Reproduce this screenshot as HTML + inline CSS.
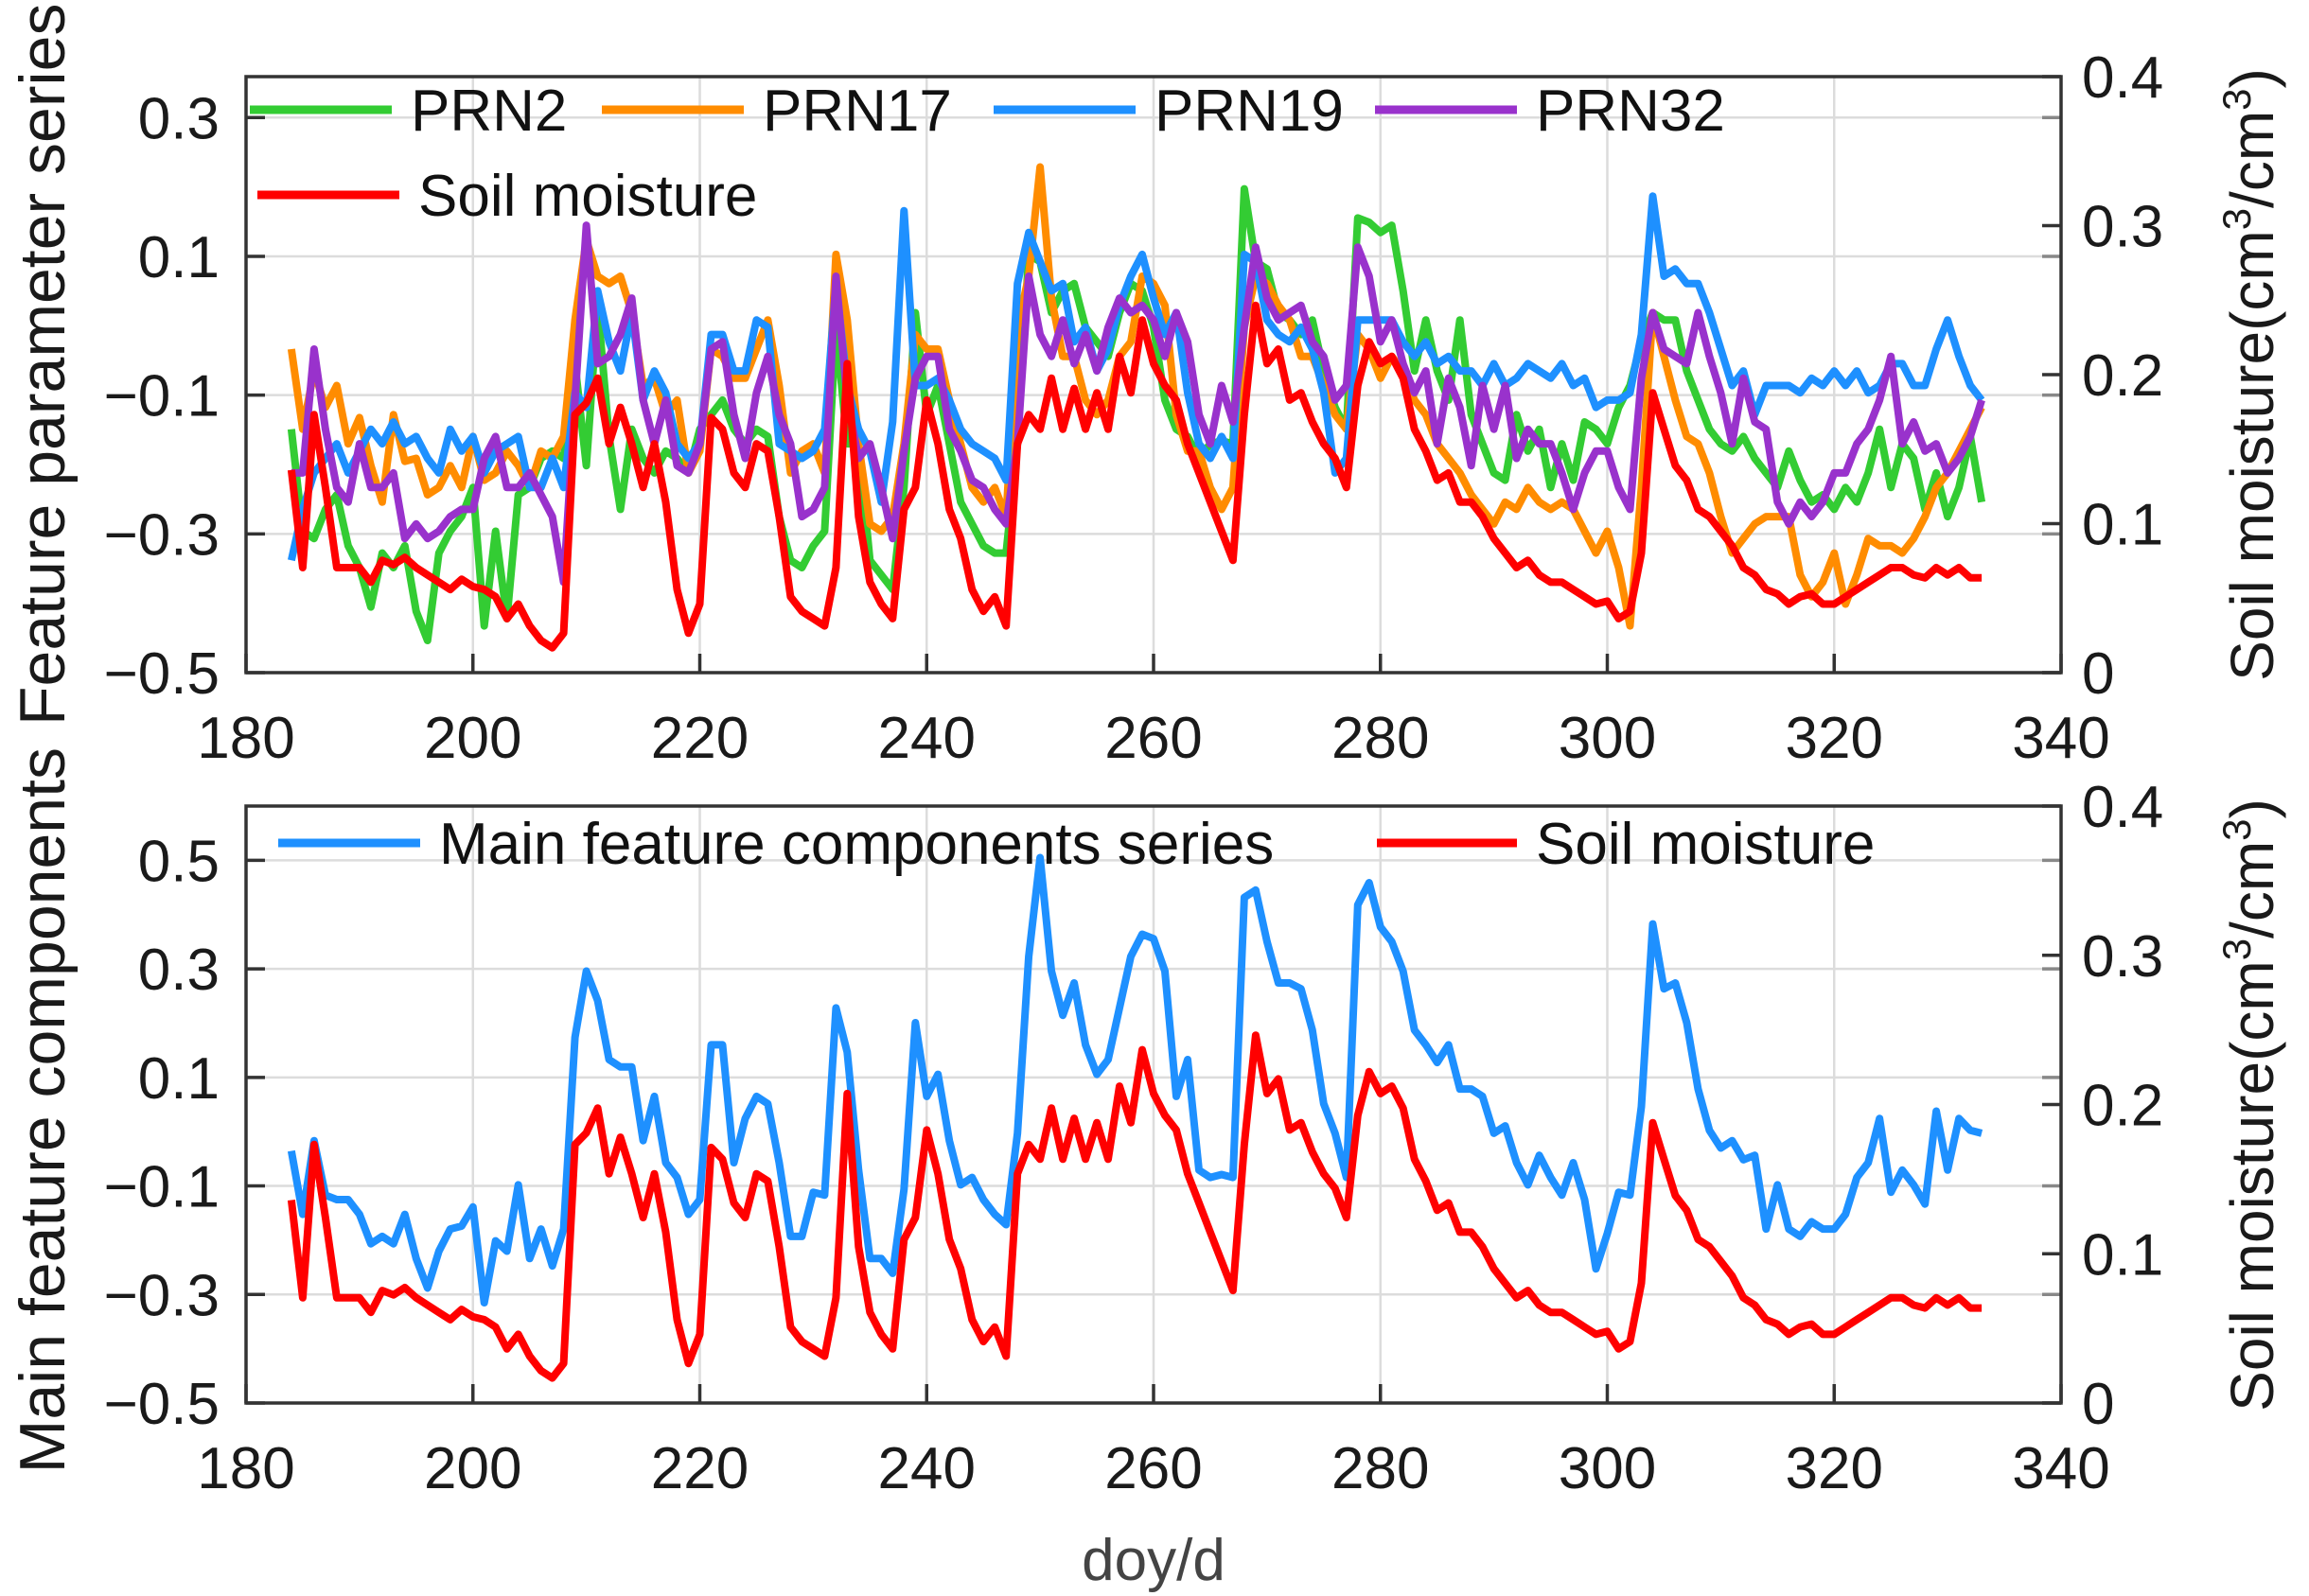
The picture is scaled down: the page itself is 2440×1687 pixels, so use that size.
<!DOCTYPE html>
<html><head><meta charset="utf-8"><style>
html,body{margin:0;padding:0;background:#fff;}
svg{display:block;font-family:"Liberation Sans",Arial,sans-serif;}
</style></head><body>
<svg id="s" width="2440" height="1687" viewBox="0 0 2440 1687" xmlns="http://www.w3.org/2000/svg">
<rect width="2440" height="1687" fill="#fff"/>
<g id="grid" stroke="#dcdcdc" stroke-width="2.5"></g>
<g id="series" fill="none" stroke-width="8" stroke-linejoin="round"></g>
<g id="axes" stroke="#333" stroke-width="3.5" fill="none"></g>
<g id="labels" fill="#1a1a1a" font-size="62"></g>
<g id="legend"></g>
</svg>
<script>
var NS="http://www.w3.org/2000/svg";
function el(p,t,a,txt){var e=document.createElementNS(NS,t);for(var k in a)e.setAttribute(k,a[k]);if(txt!==undefined)e.textContent=txt;document.getElementById(p).appendChild(e);return e;}
var L=260,R=2178;
function X(d){return L+(d-180)*(R-L)/160;}
var P=[{t:81,b:711,ymin:-0.5,ymax:0.359,ticks:[-0.5,-0.3,-0.1,0.1,0.3]},{t:852,b:1483,ymin:-0.5,ymax:0.6,ticks:[-0.5,-0.3,-0.1,0.1,0.3,0.5]}];
P.forEach(function(p,i){
 function Y(v){return p.b-(v-p.ymin)/(p.ymax-p.ymin)*(p.b-p.t);}
 for(var d=200;d<=320;d+=20)el('grid','line',{x1:X(d),x2:X(d),y1:p.t,y2:p.b});
 p.ticks.forEach(function(v){var y=Y(v);if(v>p.ymin)el('grid','line',{x1:L,x2:R,y1:y,y2:y});
  el('axes','line',{x1:L,x2:L+20,y1:y,y2:y});el('axes','line',{x1:R,x2:R-20,y1:y,y2:y,stroke:'#888'});
  el('labels','text',{x:232,y:y+22,'text-anchor':'end'},(v<0?'\u2212':'')+Math.abs(v).toFixed(1));});
 for(var d=180;d<=340;d+=20){el('axes','line',{x1:X(d),x2:X(d),y1:p.b,y2:p.b-20});
  el('labels','text',{x:X(d),y:p.b+90,'text-anchor':'middle'},d);}
 for(var k=0;k<=4;k++){var y=p.b-k/4*(p.b-p.t);el('axes','line',{x1:R,x2:R-20,y1:y,y2:y});
  el('labels','text',{x:2200,y:y+22},k==0?'0':'0.'+k);}
 el('axes','rect',{x:L,y:p.t,width:R-L,height:p.b-p.t});
});
el('labels','text',{x:0,y:0,transform:'translate(68,767) rotate(-90)','text-anchor':'start','font-size':68},'Feature parameter series');
el('labels','text',{x:0,y:0,transform:'translate(68,790) rotate(-90)','text-anchor':'end','font-size':68},'Main feature components');
[[396],[1168]].forEach(function(c){var t=el('labels','text',{x:0,y:0,transform:'translate(2402,'+c[0]+') rotate(-90)','text-anchor':'middle','font-size':64});
 t.innerHTML='Soil moisture(cm<tspan dy="-24" font-size="42">3</tspan><tspan dy="24">/cm</tspan><tspan dy="-24" font-size="42">3</tspan><tspan dy="24">)</tspan>';});
el('labels','text',{x:1219,y:1670,'text-anchor':'middle',fill:'#444'},'doy/d');

var red=[318,385,280,330,385,385,385,395,380,383,378,385,390,395,400,393,398,400,405,420,410,425,435,440,430,280,272,255,300,275,300,330,300,340,400,430,410,282,290,320,330,300,305,350,405,415,420,425,385,245,350,395,410,420,345,330,270,300,345,365,400,415,405,425,300,280,290,255,290,262,290,265,290,240,265,215,245,260,270,300,320,340,360,380,280,205,245,235,270,265,285,300,310,330,260,230,245,240,255,290,305,325,320,340,340,350,365,375,385,380,390,395,395,400,405,410,408,420,415,375,265,290,315,325,345,350,360,370,385,390,400,403,410,405,403,410,410,405,400,395,390,385,385,390,392,385,390,385,392,392];
var grn=[290,360,365,345,335,370,385,412,375,385,370,415,435,375,360,350,330,425,360,420,335,330,310,305,310,245,315,205,295,345,290,310,320,305,310,320,290,280,270,290,300,290,295,350,380,385,370,360,220,300,300,380,390,400,330,210,280,260,300,340,355,370,375,375,300,170,175,210,195,190,220,230,240,210,190,195,220,270,290,295,310,300,298,300,125,175,180,210,215,225,215,250,275,290,145,148,155,150,195,250,215,250,270,215,280,300,320,325,280,305,290,330,300,325,285,290,300,275,260,230,210,215,215,250,270,290,300,305,295,310,320,330,305,325,340,335,345,330,340,320,290,330,300,310,345,320,350,330,295,340];
var org=[235,290,250,275,260,300,282,315,340,280,312,310,335,330,315,330,295,325,320,305,315,330,305,310,295,215,160,185,190,185,210,260,255,280,270,320,305,235,240,255,255,235,215,260,320,305,300,320,170,215,300,355,360,350,300,225,235,235,270,300,330,340,330,350,220,185,110,200,240,240,270,280,270,240,230,185,190,205,280,305,305,330,345,330,220,185,190,205,215,240,240,260,280,290,225,235,255,240,250,270,280,300,310,320,335,345,355,340,345,330,340,345,340,345,360,375,360,385,425,330,210,240,270,295,300,320,350,375,365,355,350,350,350,390,405,395,375,410,390,365,370,370,375,365,350,330,320,305,290,275];
var blu=[380,345,320,310,300,320,305,290,300,285,300,295,310,320,290,305,295,320,305,300,295,330,330,310,330,265,275,195,230,250,210,270,250,265,300,310,300,225,225,250,250,215,220,300,305,310,305,290,190,260,290,305,340,285,140,260,260,255,270,290,300,305,310,325,190,155,175,195,190,230,220,250,235,205,185,170,200,225,210,265,300,310,295,310,170,175,215,225,230,220,235,265,320,310,215,215,215,215,230,240,230,245,240,250,250,260,245,260,255,245,250,255,245,260,255,275,270,270,265,225,130,185,180,190,190,210,235,260,250,280,260,260,260,265,255,260,250,260,250,265,260,245,245,260,260,235,215,240,260,270];
var pur=[320,320,235,290,330,340,300,330,330,320,365,355,365,360,350,345,345,310,295,330,330,320,335,350,395,270,150,245,240,225,200,270,300,270,315,320,300,235,230,280,310,265,240,280,300,350,345,330,185,270,310,300,330,365,305,255,240,240,290,305,325,330,345,355,300,185,225,240,215,245,225,250,220,200,210,205,215,240,210,230,280,300,260,285,220,165,200,215,210,205,230,240,270,260,165,185,230,215,245,265,250,300,255,275,315,260,290,260,310,290,300,300,320,345,320,305,305,330,345,255,210,235,240,245,210,240,265,300,255,285,290,340,355,340,350,340,320,320,300,290,270,240,300,285,305,300,320,310,295,270];
var mb=[782,825,775,812,815,815,825,845,840,845,825,855,875,850,835,833,820,885,843,850,805,855,835,860,835,705,660,680,720,725,725,775,745,790,800,825,815,710,710,790,760,745,750,790,840,840,810,812,685,715,795,855,855,865,808,695,745,730,775,805,800,815,825,832,770,650,583,660,690,668,710,730,720,685,650,635,638,660,745,720,795,800,798,800,610,605,640,668,668,672,700,750,770,800,615,600,630,640,660,700,710,722,710,740,740,745,770,765,790,805,785,800,812,790,815,862,838,810,812,752,628,672,668,695,740,768,780,775,788,785,835,805,835,840,830,835,835,825,800,790,760,810,795,805,818,755,795,760,768,770];
function topY(y){return 81+(y-48)*1.540;}
function botY(y){return 852+(y-548)*1.558;}
function line(arr,fy,col){var pts=arr.map(function(y,i){return X(184+i).toFixed(1)+','+fy(y).toFixed(1);}).join(' ');el('series','polyline',{points:pts,stroke:col});}
line(grn,topY,'#33cc33');line(org,topY,'#ff8c00');line(blu,topY,'#1e90ff');line(pur,topY,'#9932cc');line(red,topY,'#ff0000');
line(mb,botY,'#1e90ff');
line(red,function(y){var v=(711-topY(y))/630;return 1483-v*631;},'#ff0000');
function leg(x1,x2,y,col,txt){el('legend','line',{x1:x1,x2:x2,y1:y,y2:y,stroke:col,'stroke-width':9});
 el('legend','text',{x:x2+20,y:y+22,'font-size':62,fill:'#111'},txt);}
leg(264,414,116,'#33cc33','PRN2');leg(636,786,116,'#ff8c00','PRN17');leg(1050,1200,116,'#1e90ff','PRN19');leg(1453,1603,116,'#9932cc','PRN32');
leg(272,422,206,'#ff0000','Soil moisture');
leg(294,444,891,'#1e90ff','Main feature components series');leg(1455,1603,891,'#ff0000','Soil moisture');
</script>
</body></html>
